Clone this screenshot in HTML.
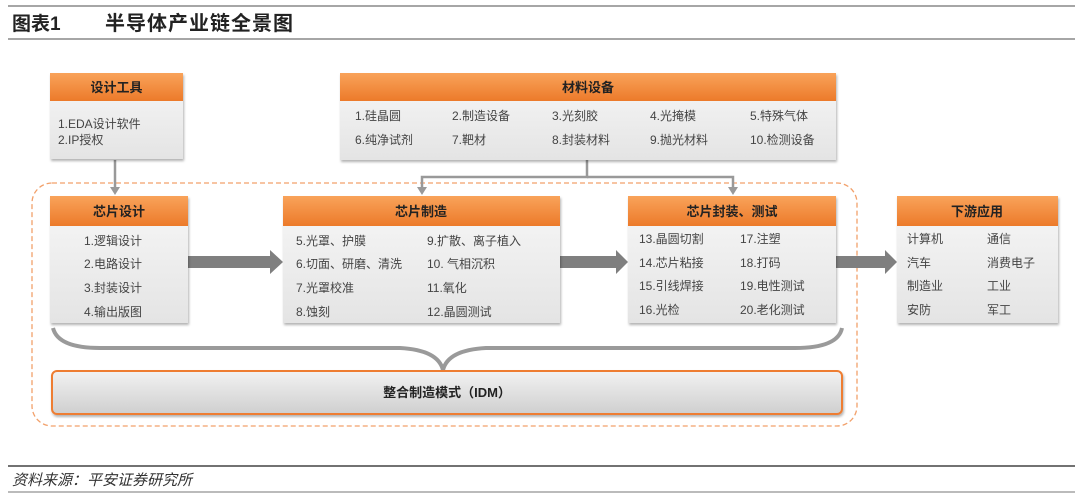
<!DOCTYPE html>
<html><head><meta charset="utf-8"><style>
html,body{margin:0;padding:0;background:#fff;}
svg{display:block;}
text{font-family:"Liberation Sans","Noto Sans CJK SC",sans-serif;}
.h{font-size:13px;font-weight:bold;fill:#222;text-anchor:middle;}
.t{font-size:12px;fill:#444;}
</style></head><body>
<svg width="1080" height="500" viewBox="0 0 1080 500" xmlns="http://www.w3.org/2000/svg">
<defs>
<linearGradient id="og" x1="0" y1="0" x2="0" y2="1"><stop offset="0" stop-color="#f9a35a"/><stop offset="1" stop-color="#ec7a2a"/></linearGradient>
<linearGradient id="bg" x1="0" y1="0" x2="0" y2="1"><stop offset="0" stop-color="#f7f7f7"/><stop offset="1" stop-color="#e4e4e4"/></linearGradient>
<linearGradient id="ig" x1="0" y1="0" x2="0" y2="1"><stop offset="0" stop-color="#f2f2f2"/><stop offset="1" stop-color="#cfcfcf"/></linearGradient>
<filter id="sh" x="-5%" y="-5%" width="110%" height="115%"><feDropShadow dx="1" dy="2" stdDeviation="1.2" flood-color="#000" flood-opacity="0.3"/></filter>
</defs>
<line x1="8" y1="6" x2="1075" y2="6" stroke="#888" stroke-width="1.5"/>
<text x="12" y="30" style="font-size:19px;font-weight:bold;fill:#222">图表1</text>
<text x="105" y="30" style="font-size:20px;font-weight:bold;fill:#222;letter-spacing:1px">半导体产业链全景图</text>
<line x1="8" y1="39" x2="1075" y2="39" stroke="#888" stroke-width="1.5"/>

<!-- dashed container -->
<rect x="32" y="183" width="825" height="243" rx="20" fill="none" stroke="#f2a06a" stroke-width="1.3" stroke-dasharray="5,3"/>

<!-- connectors -->
<line x1="115" y1="160" x2="115" y2="189" stroke="#999" stroke-width="2.5"/>
<polygon points="110,187 120,187 115,195" fill="#999"/>
<polyline points="587,160 587,177 422,177 422,189" fill="none" stroke="#999" stroke-width="2.5"/>
<polyline points="587,177 733,177 733,189" fill="none" stroke="#999" stroke-width="2.5"/>
<polygon points="417,187 427,187 422,195" fill="#999"/>
<polygon points="728,187 738,187 733,195" fill="#999"/>

<!-- big arrows -->
<g fill="#7f7f7f">
<polygon points="188,256 270,256 270,250 283,262 270,274 270,268 188,268"/>
<polygon points="560,256 616,256 616,250 628,262 616,274 616,268 560,268"/>
<polygon points="836,256 885,256 885,250 897,262 885,274 885,268 836,268"/>
</g>

<!-- 设计工具 -->
<g filter="url(#sh)"><rect x="50" y="73" width="133" height="86" fill="url(#bg)"/></g>
<rect x="50" y="73" width="133" height="28" fill="url(#og)"/>
<text class="h" x="116.5" y="92">设计工具</text>
<text class="t" x="58" y="128">1.EDA设计软件</text>
<text class="t" x="58" y="144">2.IP授权</text>

<!-- 材料设备 -->
<g filter="url(#sh)"><rect x="340" y="73" width="496" height="87" fill="url(#bg)"/></g>
<rect x="340" y="73" width="496" height="28" fill="url(#og)"/>
<text class="h" x="588" y="92">材料设备</text>
<g class="t">
<text class="t" x="355" y="120">1.硅晶圆</text><text class="t" x="452" y="120">2.制造设备</text><text class="t" x="552" y="120">3.光刻胶</text><text class="t" x="650" y="120">4.光掩模</text><text class="t" x="750" y="120">5.特殊气体</text>
<text class="t" x="355" y="144">6.纯净试剂</text><text class="t" x="452" y="144">7.靶材</text><text class="t" x="552" y="144">8.封装材料</text><text class="t" x="650" y="144">9.抛光材料</text><text class="t" x="750" y="144">10.检测设备</text>
</g>

<!-- 芯片设计 -->
<g filter="url(#sh)"><rect x="50" y="196" width="138" height="127" fill="url(#bg)"/></g>
<rect x="50" y="196" width="138" height="30" fill="url(#og)"/>
<text class="h" x="119" y="216">芯片设计</text>
<text class="t" x="84" y="245">1.逻辑设计</text>
<text class="t" x="84" y="268">2.电路设计</text>
<text class="t" x="84" y="292">3.封装设计</text>
<text class="t" x="84" y="316">4.输出版图</text>

<!-- 芯片制造 -->
<g filter="url(#sh)"><rect x="283" y="196" width="277" height="127" fill="url(#bg)"/></g>
<rect x="283" y="196" width="277" height="30" fill="url(#og)"/>
<text class="h" x="421" y="216">芯片制造</text>
<text class="t" x="296" y="245">5.光罩、护膜</text><text class="t" x="427" y="245">9.扩散、离子植入</text>
<text class="t" x="296" y="268">6.切面、研磨、清洗</text><text class="t" x="427" y="268">10. 气相沉积</text>
<text class="t" x="296" y="292">7.光罩校准</text><text class="t" x="427" y="292">11.氧化</text>
<text class="t" x="296" y="316">8.蚀刻</text><text class="t" x="427" y="316">12.晶圆测试</text>

<!-- 芯片封装、测试 -->
<g filter="url(#sh)"><rect x="628" y="196" width="208" height="127" fill="url(#bg)"/></g>
<rect x="628" y="196" width="208" height="30" fill="url(#og)"/>
<text class="h" x="732" y="216">芯片封装、测试</text>
<text class="t" x="639" y="243">13.晶圆切割</text><text class="t" x="740" y="243">17.注塑</text>
<text class="t" x="639" y="267">14.芯片粘接</text><text class="t" x="740" y="267">18.打码</text>
<text class="t" x="639" y="290">15.引线焊接</text><text class="t" x="740" y="290">19.电性测试</text>
<text class="t" x="639" y="314">16.光检</text><text class="t" x="740" y="314">20.老化测试</text>

<!-- 下游应用 -->
<g filter="url(#sh)"><rect x="897" y="196" width="161" height="127" fill="url(#bg)"/></g>
<rect x="897" y="196" width="161" height="30" fill="url(#og)"/>
<text class="h" x="977" y="216">下游应用</text>
<text class="t" x="907" y="243">计算机</text><text class="t" x="987" y="243">通信</text>
<text class="t" x="907" y="267">汽车</text><text class="t" x="987" y="267">消费电子</text>
<text class="t" x="907" y="290">制造业</text><text class="t" x="987" y="290">工业</text>
<text class="t" x="907" y="314">安防</text><text class="t" x="987" y="314">军工</text>

<!-- brace -->
<path d="M53,328 Q58,348 100,348 L400,348 Q438,350 443,370 Q448,350 486,348 L795,348 Q838,348 842,328" fill="none" stroke="#9a9a9a" stroke-width="4"/>

<!-- IDM -->
<g filter="url(#sh)"><rect x="52" y="371" width="790" height="43" rx="5" fill="url(#ig)" stroke="#ee7d31" stroke-width="2"/></g>
<text class="h" x="447" y="397" style="font-size:13px">整合制造模式（IDM）</text>

<!-- footer -->
<line x1="8" y1="466" x2="1075" y2="466" stroke="#444" stroke-width="1.5"/>
<text x="12" y="485" style="font-size:15px;font-style:italic;fill:#333">资料来源：平安证券研究所</text>
<line x1="8" y1="492" x2="1075" y2="492" stroke="#777" stroke-width="1"/>
</svg>
</body></html>
